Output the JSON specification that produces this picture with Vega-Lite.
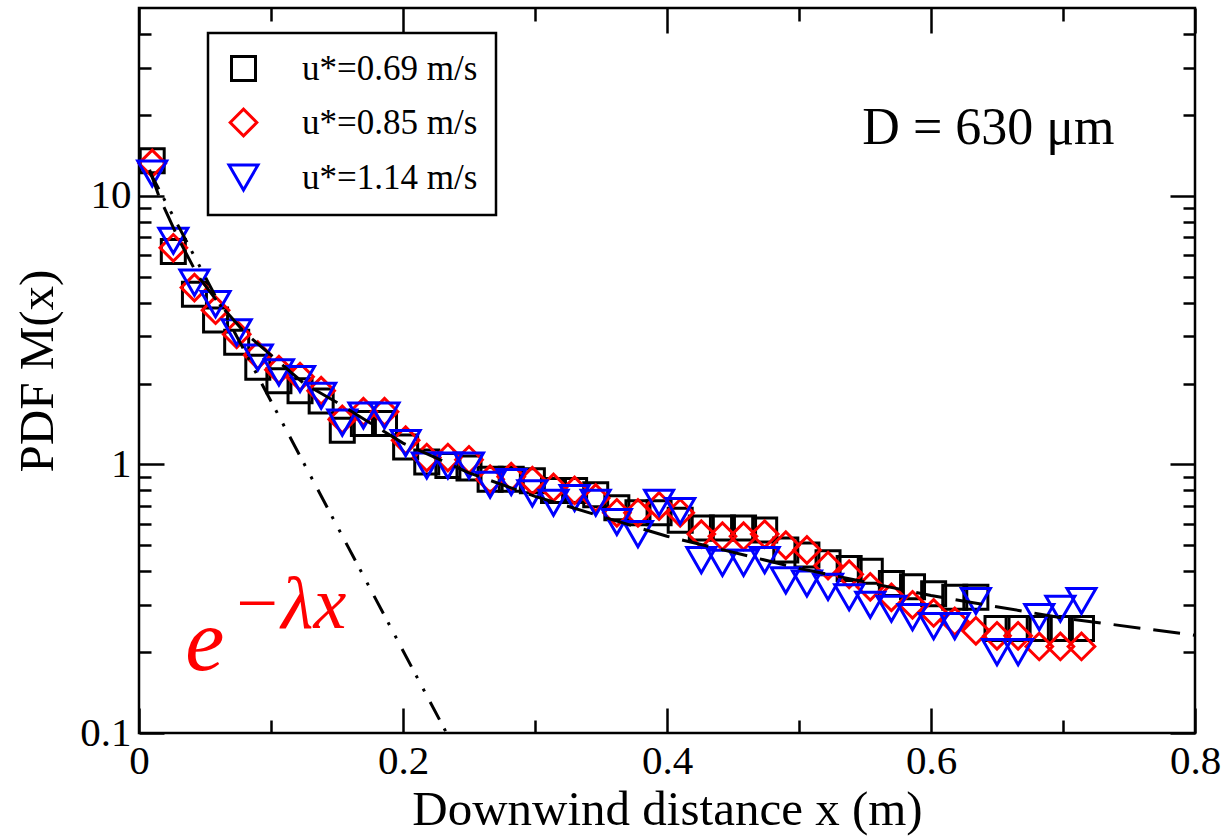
{
  "$schema": "https://vega.github.io/schema/vega-lite/v6.json",
  "width": 1056,
  "height": 725,
  "autosize": {"type": "none"},
  "padding": {"left": 139, "top": 8, "right": 37, "bottom": 105},
  "background": "white",
  "config": {
    "view": {"stroke": "black", "strokeWidth": 2.5},
    "font": "Liberation Serif",
    "axis": {
      "domain": false,
      "grid": false,
      "tickColor": "black",
      "tickWidth": 2.5,
      "labelFont": "Liberation Serif",
      "labelFontSize": 41,
      "labelColor": "black",
      "titleFont": "Liberation Serif",
      "titleFontSize": 49,
      "titleFontWeight": "normal",
      "titleColor": "black",
      "labelFlush": false,
      "labelOverlap": false
    },
    "legend": {
      "orient": "none",
      "legendX": 69,
      "legendY": 25,
      "strokeColor": "black",
      "strokeWidth": 2.5,
      "fillColor": "white",
      "padding": 18,
      "labelFont": "Liberation Serif",
      "labelFontSize": 35,
      "labelColor": "black",
      "labelOffset": 41,
      "labelLimit": 400,
      "rowPadding": 16,
      "symbolStrokeWidth": 3
    }
  },
  "datasets": {
    "points": [
      {"x": 0.010, "pdf": 13.5, "series": "u*=0.69 m/s"},
      {"x": 0.026, "pdf": 6.2, "series": "u*=0.69 m/s"},
      {"x": 0.042, "pdf": 4.3, "series": "u*=0.69 m/s"},
      {"x": 0.058, "pdf": 3.45, "series": "u*=0.69 m/s"},
      {"x": 0.074, "pdf": 2.85, "series": "u*=0.69 m/s"},
      {"x": 0.090, "pdf": 2.3, "series": "u*=0.69 m/s"},
      {"x": 0.106, "pdf": 2.05, "series": "u*=0.69 m/s"},
      {"x": 0.122, "pdf": 1.88, "series": "u*=0.69 m/s"},
      {"x": 0.138, "pdf": 1.72, "series": "u*=0.69 m/s"},
      {"x": 0.154, "pdf": 1.34, "series": "u*=0.69 m/s"},
      {"x": 0.170, "pdf": 1.42, "series": "u*=0.69 m/s"},
      {"x": 0.186, "pdf": 1.42, "series": "u*=0.69 m/s"},
      {"x": 0.202, "pdf": 1.16, "series": "u*=0.69 m/s"},
      {"x": 0.218, "pdf": 1.02, "series": "u*=0.69 m/s"},
      {"x": 0.234, "pdf": 0.99, "series": "u*=0.69 m/s"},
      {"x": 0.250, "pdf": 0.97, "series": "u*=0.69 m/s"},
      {"x": 0.266, "pdf": 0.88, "series": "u*=0.69 m/s"},
      {"x": 0.282, "pdf": 0.88, "series": "u*=0.69 m/s"},
      {"x": 0.298, "pdf": 0.87, "series": "u*=0.69 m/s"},
      {"x": 0.314, "pdf": 0.8, "series": "u*=0.69 m/s"},
      {"x": 0.330, "pdf": 0.8, "series": "u*=0.69 m/s"},
      {"x": 0.346, "pdf": 0.77, "series": "u*=0.69 m/s"},
      {"x": 0.362, "pdf": 0.69, "series": "u*=0.69 m/s"},
      {"x": 0.378, "pdf": 0.66, "series": "u*=0.69 m/s"},
      {"x": 0.394, "pdf": 0.66, "series": "u*=0.69 m/s"},
      {"x": 0.410, "pdf": 0.62, "series": "u*=0.69 m/s"},
      {"x": 0.426, "pdf": 0.58, "series": "u*=0.69 m/s"},
      {"x": 0.442, "pdf": 0.58, "series": "u*=0.69 m/s"},
      {"x": 0.458, "pdf": 0.58, "series": "u*=0.69 m/s"},
      {"x": 0.474, "pdf": 0.57, "series": "u*=0.69 m/s"},
      {"x": 0.490, "pdf": 0.48, "series": "u*=0.69 m/s"},
      {"x": 0.506, "pdf": 0.46, "series": "u*=0.69 m/s"},
      {"x": 0.522, "pdf": 0.43, "series": "u*=0.69 m/s"},
      {"x": 0.538, "pdf": 0.41, "series": "u*=0.69 m/s"},
      {"x": 0.554, "pdf": 0.4, "series": "u*=0.69 m/s"},
      {"x": 0.570, "pdf": 0.36, "series": "u*=0.69 m/s"},
      {"x": 0.586, "pdf": 0.35, "series": "u*=0.69 m/s"},
      {"x": 0.602, "pdf": 0.33, "series": "u*=0.69 m/s"},
      {"x": 0.618, "pdf": 0.32, "series": "u*=0.69 m/s"},
      {"x": 0.634, "pdf": 0.32, "series": "u*=0.69 m/s"},
      {"x": 0.650, "pdf": 0.245, "series": "u*=0.69 m/s"},
      {"x": 0.666, "pdf": 0.245, "series": "u*=0.69 m/s"},
      {"x": 0.682, "pdf": 0.245, "series": "u*=0.69 m/s"},
      {"x": 0.698, "pdf": 0.245, "series": "u*=0.69 m/s"},
      {"x": 0.714, "pdf": 0.245, "series": "u*=0.69 m/s"},
      {"x": 0.010, "pdf": 13.2, "series": "u*=0.85 m/s"},
      {"x": 0.026, "pdf": 6.4, "series": "u*=0.85 m/s"},
      {"x": 0.042, "pdf": 4.55, "series": "u*=0.85 m/s"},
      {"x": 0.058, "pdf": 3.75, "series": "u*=0.85 m/s"},
      {"x": 0.074, "pdf": 3.05, "series": "u*=0.85 m/s"},
      {"x": 0.090, "pdf": 2.55, "series": "u*=0.85 m/s"},
      {"x": 0.106, "pdf": 2.25, "series": "u*=0.85 m/s"},
      {"x": 0.122, "pdf": 2.12, "series": "u*=0.85 m/s"},
      {"x": 0.138, "pdf": 1.88, "series": "u*=0.85 m/s"},
      {"x": 0.154, "pdf": 1.47, "series": "u*=0.85 m/s"},
      {"x": 0.170, "pdf": 1.57, "series": "u*=0.85 m/s"},
      {"x": 0.186, "pdf": 1.57, "series": "u*=0.85 m/s"},
      {"x": 0.202, "pdf": 1.23, "series": "u*=0.85 m/s"},
      {"x": 0.218, "pdf": 1.06, "series": "u*=0.85 m/s"},
      {"x": 0.234, "pdf": 1.06, "series": "u*=0.85 m/s"},
      {"x": 0.250, "pdf": 1.04, "series": "u*=0.85 m/s"},
      {"x": 0.266, "pdf": 0.88, "series": "u*=0.85 m/s"},
      {"x": 0.282, "pdf": 0.9, "series": "u*=0.85 m/s"},
      {"x": 0.298, "pdf": 0.87, "series": "u*=0.85 m/s"},
      {"x": 0.314, "pdf": 0.82, "series": "u*=0.85 m/s"},
      {"x": 0.330, "pdf": 0.8, "series": "u*=0.85 m/s"},
      {"x": 0.346, "pdf": 0.75, "series": "u*=0.85 m/s"},
      {"x": 0.362, "pdf": 0.66, "series": "u*=0.85 m/s"},
      {"x": 0.378, "pdf": 0.66, "series": "u*=0.85 m/s"},
      {"x": 0.394, "pdf": 0.7, "series": "u*=0.85 m/s"},
      {"x": 0.410, "pdf": 0.66, "series": "u*=0.85 m/s"},
      {"x": 0.426, "pdf": 0.55, "series": "u*=0.85 m/s"},
      {"x": 0.442, "pdf": 0.54, "series": "u*=0.85 m/s"},
      {"x": 0.458, "pdf": 0.54, "series": "u*=0.85 m/s"},
      {"x": 0.474, "pdf": 0.55, "series": "u*=0.85 m/s"},
      {"x": 0.490, "pdf": 0.5, "series": "u*=0.85 m/s"},
      {"x": 0.506, "pdf": 0.48, "series": "u*=0.85 m/s"},
      {"x": 0.522, "pdf": 0.42, "series": "u*=0.85 m/s"},
      {"x": 0.538, "pdf": 0.39, "series": "u*=0.85 m/s"},
      {"x": 0.554, "pdf": 0.35, "series": "u*=0.85 m/s"},
      {"x": 0.570, "pdf": 0.32, "series": "u*=0.85 m/s"},
      {"x": 0.586, "pdf": 0.3, "series": "u*=0.85 m/s"},
      {"x": 0.602, "pdf": 0.28, "series": "u*=0.85 m/s"},
      {"x": 0.618, "pdf": 0.26, "series": "u*=0.85 m/s"},
      {"x": 0.634, "pdf": 0.24, "series": "u*=0.85 m/s"},
      {"x": 0.650, "pdf": 0.23, "series": "u*=0.85 m/s"},
      {"x": 0.666, "pdf": 0.23, "series": "u*=0.85 m/s"},
      {"x": 0.682, "pdf": 0.21, "series": "u*=0.85 m/s"},
      {"x": 0.698, "pdf": 0.21, "series": "u*=0.85 m/s"},
      {"x": 0.714, "pdf": 0.21, "series": "u*=0.85 m/s"},
      {"x": 0.010, "pdf": 12.1, "series": "u*=1.14 m/s"},
      {"x": 0.026, "pdf": 6.8, "series": "u*=1.14 m/s"},
      {"x": 0.042, "pdf": 4.75, "series": "u*=1.14 m/s"},
      {"x": 0.058, "pdf": 3.95, "series": "u*=1.14 m/s"},
      {"x": 0.074, "pdf": 3.1, "series": "u*=1.14 m/s"},
      {"x": 0.090, "pdf": 2.5, "series": "u*=1.14 m/s"},
      {"x": 0.106, "pdf": 2.2, "series": "u*=1.14 m/s"},
      {"x": 0.122, "pdf": 2.08, "series": "u*=1.14 m/s"},
      {"x": 0.138, "pdf": 1.8, "series": "u*=1.14 m/s"},
      {"x": 0.154, "pdf": 1.43, "series": "u*=1.14 m/s"},
      {"x": 0.170, "pdf": 1.52, "series": "u*=1.14 m/s"},
      {"x": 0.186, "pdf": 1.52, "series": "u*=1.14 m/s"},
      {"x": 0.202, "pdf": 1.2, "series": "u*=1.14 m/s"},
      {"x": 0.218, "pdf": 0.99, "series": "u*=1.14 m/s"},
      {"x": 0.234, "pdf": 0.99, "series": "u*=1.14 m/s"},
      {"x": 0.250, "pdf": 0.99, "series": "u*=1.14 m/s"},
      {"x": 0.266, "pdf": 0.84, "series": "u*=1.14 m/s"},
      {"x": 0.282, "pdf": 0.86, "series": "u*=1.14 m/s"},
      {"x": 0.298, "pdf": 0.78, "series": "u*=1.14 m/s"},
      {"x": 0.314, "pdf": 0.72, "series": "u*=1.14 m/s"},
      {"x": 0.330, "pdf": 0.75, "series": "u*=1.14 m/s"},
      {"x": 0.346, "pdf": 0.72, "series": "u*=1.14 m/s"},
      {"x": 0.362, "pdf": 0.61, "series": "u*=1.14 m/s"},
      {"x": 0.378, "pdf": 0.55, "series": "u*=1.14 m/s"},
      {"x": 0.394, "pdf": 0.72, "series": "u*=1.14 m/s"},
      {"x": 0.410, "pdf": 0.67, "series": "u*=1.14 m/s"},
      {"x": 0.426, "pdf": 0.44, "series": "u*=1.14 m/s"},
      {"x": 0.442, "pdf": 0.43, "series": "u*=1.14 m/s"},
      {"x": 0.458, "pdf": 0.43, "series": "u*=1.14 m/s"},
      {"x": 0.474, "pdf": 0.44, "series": "u*=1.14 m/s"},
      {"x": 0.490, "pdf": 0.37, "series": "u*=1.14 m/s"},
      {"x": 0.506, "pdf": 0.36, "series": "u*=1.14 m/s"},
      {"x": 0.522, "pdf": 0.35, "series": "u*=1.14 m/s"},
      {"x": 0.538, "pdf": 0.32, "series": "u*=1.14 m/s"},
      {"x": 0.554, "pdf": 0.3, "series": "u*=1.14 m/s"},
      {"x": 0.570, "pdf": 0.29, "series": "u*=1.14 m/s"},
      {"x": 0.586, "pdf": 0.27, "series": "u*=1.14 m/s"},
      {"x": 0.602, "pdf": 0.25, "series": "u*=1.14 m/s"},
      {"x": 0.618, "pdf": 0.25, "series": "u*=1.14 m/s"},
      {"x": 0.634, "pdf": 0.31, "series": "u*=1.14 m/s"},
      {"x": 0.650, "pdf": 0.2, "series": "u*=1.14 m/s"},
      {"x": 0.666, "pdf": 0.2, "series": "u*=1.14 m/s"},
      {"x": 0.682, "pdf": 0.27, "series": "u*=1.14 m/s"},
      {"x": 0.698, "pdf": 0.29, "series": "u*=1.14 m/s"},
      {"x": 0.714, "pdf": 0.31, "series": "u*=1.14 m/s"}
    ],
    "fit": [
      {"x": 0.008, "pdf": 12.5},
      {"x": 0.015, "pdf": 10.0},
      {"x": 0.03, "pdf": 6.9},
      {"x": 0.045, "pdf": 5.0},
      {"x": 0.06, "pdf": 4.0},
      {"x": 0.08, "pdf": 3.1},
      {"x": 0.1, "pdf": 2.55},
      {"x": 0.125, "pdf": 2.0},
      {"x": 0.15, "pdf": 1.7},
      {"x": 0.2, "pdf": 1.2},
      {"x": 0.25, "pdf": 0.93},
      {"x": 0.3, "pdf": 0.76},
      {"x": 0.4, "pdf": 0.54},
      {"x": 0.5, "pdf": 0.41},
      {"x": 0.6, "pdf": 0.325},
      {"x": 0.7, "pdf": 0.268},
      {"x": 0.8, "pdf": 0.231}
    ],
    "expfit": [
      {"x": 0.008, "pdf": 12.3},
      {"x": 0.233, "pdf": 0.1}
    ],
    "noteD": [{"x": 0.548, "y": 15.6, "label": "D = 630 μm"}],
    "noteE": [{"x": 0.035, "y": 0.171, "label": "e"}],
    "noteExp": [{"x": 0.07, "y": 0.246, "label": "−λx"}]
  },
  "layer": [
    {
      "data": {"name": "points"},
      "mark": {"type": "point", "filled": false, "strokeWidth": 3, "opacity": 1},
      "encoding": {
        "x": {"field": "x", "type": "quantitative",
          "scale": {"domain": [0, 0.8], "nice": false, "zero": false},
          "axis": {"orient": "bottom", "values": [0, 0.2, 0.4, 0.6, 0.8], "tickSize": -25, "labelPadding": 33, "format": "~g", "title": "Downwind distance x (m)", "titlePadding": 4}},
        "y": {"field": "pdf", "type": "quantitative",
          "scale": {"type": "log", "domain": [0.1, 50], "nice": false},
          "axis": {"orient": "left", "values": [0.1, 1, 10], "tickSize": -25, "labelPadding": 33, "format": "~g", "title": "PDF M(x)", "titlePadding": 17}},
        "color": {"field": "series", "type": "nominal",
          "scale": {"domain": ["u*=0.69 m/s", "u*=0.85 m/s", "u*=1.14 m/s"], "range": ["#000000", "#ff0000", "#0000ff"]},
          "legend": {"title": null}},
        "shape": {"field": "series", "type": "nominal",
          "scale": {"domain": ["u*=0.69 m/s", "u*=0.85 m/s", "u*=1.14 m/s"], "range": ["square", "diamond", "triangle-down"]},
          "legend": {"title": null}},
        "size": {"field": "series", "type": "nominal",
          "scale": {"domain": ["u*=0.69 m/s", "u*=0.85 m/s", "u*=1.14 m/s"], "range": [576, 840, 780]},
          "legend": {"title": null}}
      }
    },
    {
      "data": {"name": "fit"},
      "mark": {"type": "line", "color": "black", "strokeWidth": 3, "strokeDash": [27, 13], "clip": true},
      "encoding": {
        "x": {"field": "x", "type": "quantitative",
          "scale": {"domain": [0, 0.8], "nice": false, "zero": false},
          "axis": {"orient": "bottom", "values": [0.1, 0.3, 0.5, 0.7], "tickSize": -13, "labels": false, "title": null}},
        "y": {"field": "pdf", "type": "quantitative",
          "scale": {"type": "log", "domain": [0.1, 50], "nice": false},
          "axis": {"orient": "left", "values": [0.2, 0.3, 0.4, 0.5, 0.6, 0.7, 0.8, 0.9, 2, 3, 4, 5, 6, 7, 8, 9, 20, 30, 40], "tickSize": -12, "labels": false, "title": null}}
      }
    },
    {
      "data": {"name": "expfit"},
      "mark": {"type": "line", "color": "black", "strokeWidth": 3, "strokeDash": [20, 10, 3, 12, 3, 12], "clip": true},
      "encoding": {
        "x": {"field": "x", "type": "quantitative",
          "scale": {"domain": [0, 0.8], "nice": false, "zero": false},
          "axis": {"orient": "top", "values": [0, 0.2, 0.4, 0.6, 0.8], "tickSize": -25, "labels": false, "title": null}},
        "y": {"field": "pdf", "type": "quantitative",
          "scale": {"type": "log", "domain": [0.1, 50], "nice": false},
          "axis": {"orient": "right", "values": [0.1, 1, 10], "tickSize": -25, "labels": false, "title": null}}
      }
    },
    {
      "data": {"name": "noteD"},
      "mark": {"type": "text", "font": "Liberation Serif", "fontSize": 52, "align": "left", "baseline": "alphabetic", "color": "black"},
      "encoding": {
        "x": {"field": "x", "type": "quantitative",
          "scale": {"domain": [0, 0.8], "nice": false, "zero": false},
          "axis": {"orient": "top", "values": [0.1, 0.3, 0.5, 0.7], "tickSize": -13, "labels": false, "title": null}},
        "y": {"field": "y", "type": "quantitative",
          "scale": {"type": "log", "domain": [0.1, 50], "nice": false},
          "axis": {"orient": "right", "values": [0.2, 0.3, 0.4, 0.5, 0.6, 0.7, 0.8, 0.9, 2, 3, 4, 5, 6, 7, 8, 9, 20, 30, 40], "tickSize": -12, "labels": false, "title": null}},
        "text": {"field": "label"}
      }
    },
    {
      "data": {"name": "noteE"},
      "mark": {"type": "text", "font": "Liberation Serif", "fontSize": 88, "fontStyle": "italic", "align": "left", "baseline": "alphabetic", "color": "#ff0000"},
      "encoding": {
        "x": {"field": "x", "type": "quantitative", "scale": {"domain": [0, 0.8], "nice": false, "zero": false}, "axis": null},
        "y": {"field": "y", "type": "quantitative", "scale": {"type": "log", "domain": [0.1, 50], "nice": false}, "axis": null},
        "text": {"field": "label"}
      }
    },
    {
      "data": {"name": "noteExp"},
      "mark": {"type": "text", "font": "Liberation Serif", "fontSize": 74, "fontStyle": "italic", "align": "left", "baseline": "alphabetic", "color": "#ff0000"},
      "encoding": {
        "x": {"field": "x", "type": "quantitative", "scale": {"domain": [0, 0.8], "nice": false, "zero": false}, "axis": null},
        "y": {"field": "y", "type": "quantitative", "scale": {"type": "log", "domain": [0.1, 50], "nice": false}, "axis": null},
        "text": {"field": "label"}
      }
    }
  ],
  "resolve": {"axis": {"x": "independent", "y": "independent"}}
}
